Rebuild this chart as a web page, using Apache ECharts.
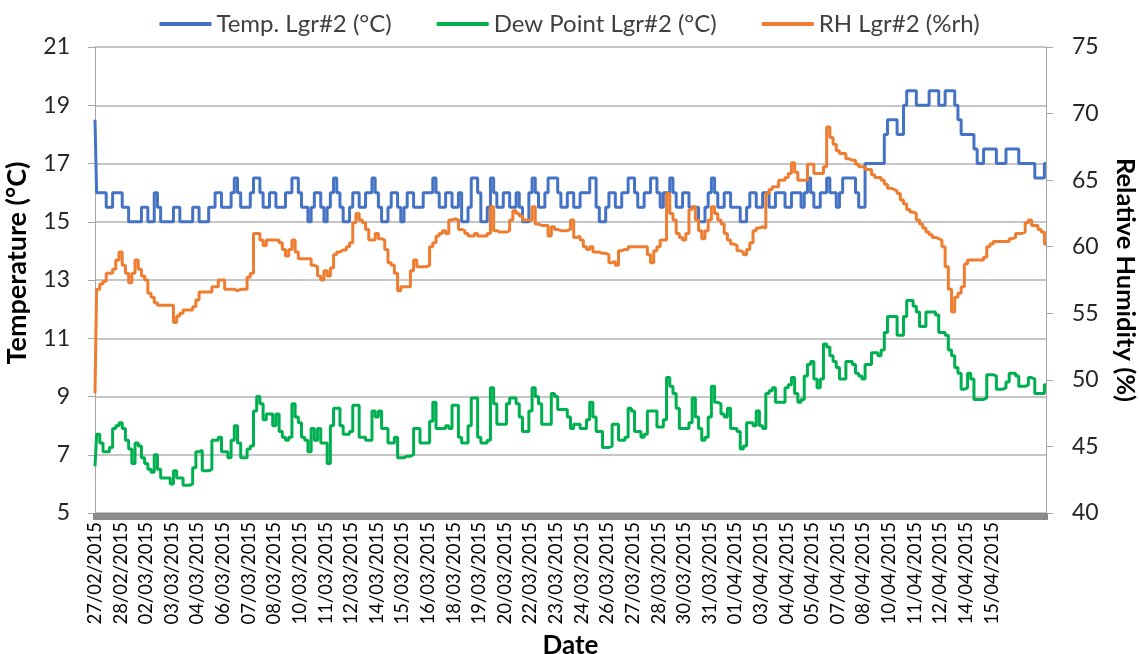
<!DOCTYPE html>
<html>
<head>
<meta charset="utf-8">
<script src="https://cdn.jsdelivr.net/npm/echarts@6/dist/echarts.min.js"></script>
<style>
html,body{margin:0;padding:0;background:#fff}
#chart{width:1139px;height:654px}
</style>
</head>
<body>
<div id="chart"></div>
<script>
// readings every ~4 hours, one tick label every 8 readings
var tickLabels=['27/02/2015','28/02/2015','02/03/2015','03/03/2015','04/03/2015','06/03/2015','07/03/2015','08/03/2015','10/03/2015','11/03/2015','12/03/2015','14/03/2015','15/03/2015','16/03/2015','18/03/2015','19/03/2015','20/03/2015','22/03/2015','23/03/2015','24/03/2015','26/03/2015','27/03/2015','28/03/2015','30/03/2015','31/03/2015','01/04/2015','03/04/2015','04/04/2015','05/04/2015','07/04/2015','08/04/2015','10/04/2015','11/04/2015','12/04/2015','14/04/2015','15/04/2015']
var labelStep=8

var temp=[18.5,16,16,16,15.5,15.5,16,16,16,15.5,
15.5,15,15,15,15,15.5,15.5,15,15,16,
15.5,15,15,15,15,15.5,15.5,15,15,15,
15,15.5,15.5,15,15,15,15.5,15.5,16,16,
15.5,15.5,15.5,16,16.5,16,15.5,15.5,15.5,16,
16.5,16.5,16,15.5,15.5,16,16,15.5,15.5,15.5,
16,16,16.5,16.5,16,15.5,15.5,15,15.5,16,
16,15.5,15,15.5,16,16.5,16,15.5,15,15,
15.5,16,16,15.5,15.5,16,16,16.5,16,15.5,
15,15,15.5,16,16,15.5,15,15.5,16,16,
15.5,15.5,15.5,16,16,16,16.5,16,15.5,15.5,
16,16,15.5,15.5,16,15,15,15.5,16.5,16.5,
16,15,15,15.5,16.5,16,15.5,15.5,16,16,
15.5,15.5,16,15.5,15,15,16,16.5,16,15.5,
15.5,16,16.5,16.5,16.5,16,15.5,15.5,16,16,
15.5,15.5,16,16,16,16.5,16.5,15.5,15,15,
15.5,16,16,15.5,15.5,16,16,16.5,16.5,16,
15.5,15.5,16,16,16.5,16.5,16,15.5,16,16,
16.5,16,15.5,15.5,16,16,15.5,15.5,15.5,15,
15,15.5,16,16.5,16,15.5,15.5,16,16,15.5,
15.5,15.5,15,15,15.5,16,16,15.5,15.5,16,
16,15.5,15.5,16,16,16,15.5,15.5,16,16,
16,15.5,16,16.5,16,15.5,15.5,16,16,16.5,
16,16,15.5,16,16.5,16.5,16.5,16.5,16,15.5,
15.5,17,17,17,17,17,17,18,18.5,18.5,
18.5,18,18,19,19.5,19.5,19.5,19,19,19,
19,19.5,19.5,19.5,19,19,19.5,19.5,19.5,19,
18.5,18,18,18,18,17.5,17,17,17.5,17.5,
17.5,17.5,17,17,17,17.5,17.5,17.5,17.5,17,
17,17,17,17,16.5,16.5,16.5,17]

var dewPoint=[6.6,7.7,7.4,7.1,7.1,7.25,7.9,8.0,8.1,7.9,
7.5,7.2,6.7,7.4,7.3,6.9,6.7,6.5,6.4,7.0,
6.5,6.2,6.2,6.2,6.0,6.45,6.2,6.2,5.95,5.95,
6.0,6.55,7.1,7.15,6.45,6.45,6.5,7.5,7.5,7.6,
7.1,7.1,6.9,7.5,8.0,7.4,6.9,6.9,7.2,7.3,
8.5,9.0,8.75,8.2,8.4,8.4,8.0,8.4,7.8,7.6,
7.5,7.6,8.75,8.3,8.1,7.6,7.5,7.1,7.9,7.5,
7.9,7.4,7.4,6.7,8.0,8.6,8.6,8.0,7.7,7.7,
7.8,8.7,8.7,7.6,7.6,7.5,7.5,8.5,8.3,8.5,
7.9,7.9,7.4,7.4,7.6,6.9,6.9,6.95,6.95,7.0,
7.9,7.9,7.4,7.4,7.4,8.15,8.8,7.9,7.9,7.9,
8.0,7.9,8.7,8.7,7.6,7.4,7.4,8.0,8.95,8.95,
7.6,7.4,7.4,7.5,9.3,8.75,8.05,8.05,8.05,8.75,
8.95,8.95,8.75,8.3,7.8,7.8,8.5,9.3,9.0,8.75,
8.05,8.05,8.05,9.1,9.0,8.55,8.55,8.55,8.3,7.9,
8.05,8.05,7.9,7.9,8.2,8.8,8.3,7.8,7.8,7.25,
7.25,7.3,8.05,8.05,7.5,7.5,7.6,8.6,8.5,7.8,
7.8,7.6,7.7,8.5,8.5,8.5,7.95,7.95,8.2,9.65,
9.35,9.1,8.6,7.9,7.9,7.9,8.1,8.95,8.3,7.9,
7.5,7.6,8.3,9.35,8.8,8.75,8.4,8.3,8.6,7.9,
7.9,7.8,7.2,7.3,8.1,8.1,8.0,8.5,8.0,7.9,
9.1,9.2,9.3,8.8,8.8,8.8,9.3,9.4,9.65,9.1,
8.8,8.9,9.7,10.1,10.2,9.6,9.3,9.6,10.8,10.7,
10.4,10.2,10.0,9.6,9.6,10.2,10.2,10.1,9.8,9.7,
9.6,10.1,10.1,10.5,10.5,10.4,10.6,11.2,11.75,11.75,
11.75,11.1,11.1,11.75,12.3,12.3,12.1,11.9,11.4,11.4,
11.9,11.9,11.9,11.8,11.2,11.2,11.1,10.6,10.4,10.0,
9.8,9.25,9.3,9.8,9.6,8.9,8.9,8.9,8.95,9.75,
9.75,9.7,9.25,9.25,9.3,9.5,9.8,9.8,9.7,9.35,
9.35,9.4,9.65,9.6,9.1,9.1,9.1,9.4]

var rh=[49,56.8,57.2,57.4,58,58,58.3,59,59.6,58.6,
58,57.3,58,59,58.3,57.8,57.5,56.5,56.2,55.8,
55.6,55.6,55.6,55.6,55.6,54.3,54.8,55,55.25,55.25,
55.25,55.5,56,56.6,56.6,56.6,56.6,57,57,57.5,
57.5,56.8,56.8,56.8,56.7,56.8,56.8,56.8,57.7,58,
61,61,60.5,60.1,60.5,60.5,60.5,60.5,60.3,59.8,
59.3,59.8,60.5,59.6,59.1,59.1,59.1,59.1,58.6,58.5,
57.8,57.5,58.2,57.8,58.4,59.4,59.6,59.75,59.75,60,
60.3,61.8,62.5,62,61.8,61.3,60.5,60.5,61,60.6,
60.5,59.8,58.8,58.6,58,56.7,57,57,57,58.2,
59,58.5,58.5,58.5,58.6,60,60.3,60.8,61,61.2,
61,62,62.1,62,61.3,61.2,61,60.8,60.8,61,
60.8,60.8,60.8,61,63,61.2,61.1,61.1,61.1,61.2,
62,62.7,62.5,62.3,62,62,62,63,61.7,61.6,
61.6,61.6,60.8,61.5,61.3,61.2,61.2,61.2,61.3,62,
60.7,60.8,60.5,60,59.8,60,59.6,59.6,59.5,59.5,
59.4,58.8,58.9,58.6,59.7,59.8,59.8,60,60,60,
60,60,60,59.4,58.8,59.7,60,60.5,60.5,64,
62.5,62,61,60.7,60.5,61,62.8,63,62,61.2,
60.6,61.2,62,63,62.5,62,61.7,61,60.5,60.2,
60.1,59.7,59.6,59.4,59.8,60.3,61.2,61.4,61.5,61.4,
64,64.3,64.5,64.5,65,65,65.2,65.5,66.3,65.6,
65,65,65,66.2,66.2,65.5,65.5,65.5,66,69,
68.2,67.7,67.2,67,67,66.6,66.5,66.5,66.2,66,
66,65.8,65.8,65.4,65.2,65.2,65,64.7,64.4,64.3,
64.2,64,63.5,63.2,62.8,62.6,62.5,62,61.7,61.4,
61.1,60.9,60.7,60.6,60.5,60,58.5,56.8,55.1,56.2,
56.5,57,58.7,59,59,59,59,59,59.2,60,
60.2,60.4,60.4,60.4,60.4,60.4,60.6,60.7,61,61,
61.1,61.8,62,61.6,61.6,61.3,61.1,60.2]

var categories=temp.map(function(v,i){return i})

var font='Lato'
var myChart=echarts.init(document.getElementById('chart'))
var option={
  animation:false,
  textStyle:{fontFamily:font},
  legend:{
    top:7,
    left:'center',
    icon:'rect',
    itemWidth:52,
    itemHeight:4,
    itemGap:45,
    textStyle:{fontSize:24,color:'#404040',fontFamily:font},
    data:['Temp. Lgr#2 (°C)','Dew Point Lgr#2 (°C)','RH Lgr#2 (%rh)']
  },
  grid:{left:95,right:93,top:47,bottom:141,outerBoundsMode:'none',containLabel:false},
  xAxis:{
    type:'category',
    boundaryGap:false,
    data:categories,
    name:'Date',
    nameLocation:'middle',
    nameGap:117,
    nameTextStyle:{fontSize:26,fontWeight:'bold',color:'#000'},
    axisLine:{lineStyle:{color:'#8c8c8c',width:1}},
    axisTick:{show:true,interval:0,length:7,lineStyle:{color:'#8c8c8c',width:4}},
    axisLabel:{
      interval:labelStep-1,
      rotate:90,
      fontSize:18.5,
      fontFamily:"'Liberation Sans Narrow', Lato",
      color:'#000',
      margin:9,
      formatter:function(v,i){return tickLabels[i/labelStep]||''}
    },
    splitLine:{show:false}
  },
  yAxis:[
    {
      type:'value',
      min:5,max:21,interval:2,
      name:'Temperature (°C)',
      nameLocation:'middle',
      nameRotate:90,
      nameGap:64,
      nameTextStyle:{fontSize:27,fontWeight:'bold',color:'#000',padding:[0,0,0,34]},
      axisLine:{show:true,lineStyle:{color:'#a6a6a6'}},
      axisTick:{show:true,length:7,lineStyle:{color:'#a6a6a6'}},
      axisLabel:{fontSize:23,color:'#262626',margin:25},
      splitLine:{lineStyle:{color:'#b3b3b3',width:1.5}}
    },
    {
      type:'value',
      min:40,max:75,interval:5,
      name:'Relative Humidity (%)',
      nameLocation:'middle',
      nameRotate:-90,
      nameGap:66,
      nameTextStyle:{fontSize:25.5,fontWeight:'bold',color:'#000'},
      axisLine:{show:true,lineStyle:{color:'#a6a6a6'}},
      axisTick:{show:true,length:7,lineStyle:{color:'#a6a6a6'}},
      axisLabel:{fontSize:23,color:'#262626',margin:26},
      splitLine:{show:false}
    }
  ],
  series:[
    {
      name:'Temp. Lgr#2 (°C)',
      type:'line',
      step:'middle',
      yAxisIndex:0,
      data:temp,
      symbol:'none',
      itemStyle:{color:'#4472C4'},
      lineStyle:{color:'#4472C4',width:3}
    },
    {
      name:'Dew Point Lgr#2 (°C)',
      type:'line',
      step:'middle',
      yAxisIndex:0,
      data:dewPoint,
      symbol:'none',
      itemStyle:{color:'#00B050'},
      lineStyle:{color:'#00B050',width:3}
    },
    {
      name:'RH Lgr#2 (%rh)',
      type:'line',
      step:'middle',
      yAxisIndex:1,
      data:rh,
      symbol:'none',
      itemStyle:{color:'#ED7D31'},
      lineStyle:{color:'#ED7D31',width:3}
    }
  ]
}
myChart.setOption(option,true)
window.addEventListener('resize',function(){
  myChart.resize()
})
</script>
</body>
</html>
